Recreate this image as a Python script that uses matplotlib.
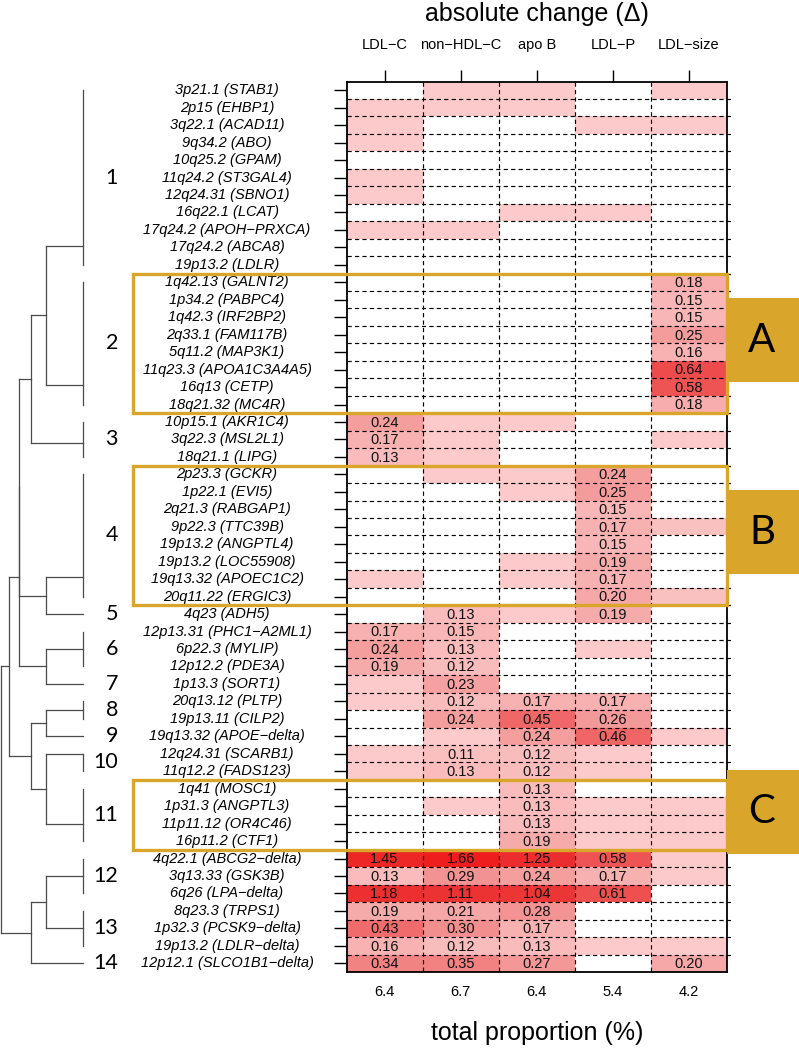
## Libraries:
import numpy as np
import matplotlib
matplotlib.use("Agg")
import matplotlib.pyplot as plt
from matplotlib.colors import LinearSegmentedColormap, Normalize
from matplotlib.patches import Rectangle
from matplotlib import transforms

plt.rcParams['font.family'] = ['Liberation Sans', 'DejaVu Sans']

## Data:
traits = ["LDL−C", "non−HDL−C", "apo B", "LDL−P", "LDL−size"]
totals = ["6.4", "6.7", "6.4", "5.4", "4.2"]

loci = [
    "3p21.1 (STAB1)", "2p15 (EHBP1)", "3q22.1 (ACAD11)", "9q34.2 (ABO)",
    "10q25.2 (GPAM)", "11q24.2 (ST3GAL4)", "12q24.31 (SBNO1)", "16q22.1 (LCAT)",
    "17q24.2 (APOH−PRXCA)", "17q24.2 (ABCA8)", "19p13.2 (LDLR)",
    "1q42.13 (GALNT2)", "1p34.2 (PABPC4)", "1q42.3 (IRF2BP2)", "2q33.1 (FAM117B)",
    "5q11.2 (MAP3K1)", "11q23.3 (APOA1C3A4A5)", "16q13 (CETP)", "18q21.32 (MC4R)",
    "10p15.1 (AKR1C4)", "3q22.3 (MSL2L1)", "18q21.1 (LIPG)",
    "2p23.3 (GCKR)", "1p22.1 (EVI5)", "2q21.3 (RABGAP1)", "9p22.3 (TTC39B)",
    "19p13.2 (ANGPTL4)", "19p13.2 (LOC55908)", "19q13.32 (APOEC1C2)", "20q11.22 (ERGIC3)",
    "4q23 (ADH5)", "12p13.31 (PHC1−A2ML1)", "6p22.3 (MYLIP)", "12p12.2 (PDE3A)",
    "1p13.3 (SORT1)", "20q13.12 (PLTP)", "19p13.11 (CILP2)", "19q13.32 (APOE−delta)",
    "12q24.31 (SCARB1)", "11q12.2 (FADS123)",
    "1q41 (MOSC1)", "1p31.3 (ANGPTL3)", "11p11.12 (OR4C46)", "16p11.2 (CTF1)",
    "4q22.1 (ABCG2−delta)", "3q13.33 (GSK3B)", "6q26 (LPA−delta)",
    "8q23.3 (TRPS1)", "1p32.3 (PCSK9−delta)", "19p13.2 (LDLR−delta)",
    "12p12.1 (SLCO1B1−delta)",
]

N = np.nan
p = 0.07   # faint, not labelled
q = 0.10   # a bit stronger, not labelled
values = np.array([
    [N, p, p, N, p],
    [p, p, p, N, N],
    [p, N, N, p, p],
    [p, N, N, N, N],
    [N, N, N, N, N],
    [p, N, N, N, N],
    [p, N, N, N, N],
    [N, N, p, p, N],
    [p, p, N, N, N],
    [N, N, N, N, N],
    [N, N, N, N, N],
    [N, N, N, N, 0.18],
    [N, N, N, N, 0.15],
    [N, N, N, N, 0.15],
    [N, N, N, N, 0.25],
    [N, N, N, N, 0.16],
    [N, N, N, N, 0.64],
    [N, N, N, N, 0.58],
    [N, N, N, N, 0.18],
    [0.24, p, p, N, N],
    [0.17, p, N, N, p],
    [0.13, p, N, N, N],
    [N, p, p, 0.24, N],
    [N, N, p, 0.25, N],
    [N, N, N, 0.15, N],
    [N, N, N, 0.17, q],
    [N, N, N, 0.15, N],
    [N, N, p, 0.19, N],
    [p, N, p, 0.17, N],
    [N, N, N, 0.20, q],
    [N, 0.13, p, 0.19, N],
    [0.17, 0.15, N, N, N],
    [0.24, 0.13, N, p, N],
    [0.19, 0.12, N, N, N],
    [p, 0.23, N, N, N],
    [p, 0.12, 0.17, 0.17, N],
    [N, 0.24, 0.45, 0.26, N],
    [N, p, 0.24, 0.46, p],
    [p, 0.11, 0.12, p, N],
    [p, 0.13, 0.12, p, N],
    [N, N, 0.13, N, N],
    [N, p, 0.13, p, p],
    [N, N, 0.13, p, p],
    [N, N, 0.19, p, p],
    [1.45, 1.66, 1.25, 0.58, p],
    [0.13, 0.29, 0.24, 0.17, p],
    [1.18, 1.11, 1.04, 0.61, N],
    [0.19, 0.21, 0.28, N, N],
    [0.43, 0.30, 0.17, N, N],
    [0.16, 0.12, 0.13, p, p],
    [0.34, 0.35, 0.27, N, 0.20],
])

# clusters of loci (in row order) and where each cluster hooks into the tree
cluster_sizes = [11, 8, 3, 8, 1, 3, 1, 2, 1, 2, 4, 3, 3, 1]
cluster_anchor = [8.9, 5.9, 1.2, 5.9, 0, 1, 0, 0.5, 0, 0, 2, 1, 1, 0]
# tree of clusters: (height, left, right)
tree = (82, (74, (64, (64, (52, (37, 0, 1), 2), (37, 3, 4)), (37, 5, 6)),
             (52, (37, 7, 8), (37, 9, 10))),
        (52, (37, 11, 12), 13))

# highlighted groups: name, first row, last row
groups = [("A", 11, 18), ("B", 22, 29), ("C", 40, 43)]

## Layout (pixels):
W, H = 799, 1049
hm_left, hm_right, hm_top, hm_bottom = 346.5, 727, 81.5, 972
n_rows, n_cols = values.shape
row_h = (hm_bottom - hm_top) / n_rows
gold = '#D9A62B'

fig = plt.figure(figsize=(W / 100, H / 100), dpi=100)
ax = fig.add_axes([hm_left / W, 1 - hm_bottom / H,
                   (hm_right - hm_left) / W, (hm_bottom - hm_top) / H])

## Heatmap:
cmap = LinearSegmentedColormap.from_list("reds", [
    (0.0, '#FFE6E6'), (0.04, '#FCC9C9'), (0.076, '#F9BABA'), (0.141, '#F49E9E'),
    (0.265, '#F06666'), (0.376, '#EE4C4C'), (0.65, '#EC3333'), (1.0, '#EE1C1C')])
cmap.set_bad('white')
norm = Normalize(0, 1.7)
ax.pcolormesh(np.arange(n_cols + 1), np.arange(n_rows + 1),
              np.ma.masked_invalid(values), cmap=cmap, norm=norm)
ax.set_xlim(0, n_cols)
ax.set_ylim(n_rows, 0)

for i in range(1, n_rows):
    ax.plot([0, n_cols + 0.05], [i, i], color='black', lw=0.85,
            ls=(0, (3.6, 2.7)), clip_on=False)
for j in range(1, n_cols):
    ax.plot([j, j], [0, n_rows], color='black', lw=0.85, ls=(0, (3.6, 2.7)))

for i in range(n_rows):
    for j in range(n_cols):
        v = values[i, j]
        if not np.isnan(v) and v >= 0.105:
            ax.text(j + 0.5, i + 0.55, f"{v:.2f}", ha='center', va='center',
                    fontsize=10.5, color='#111111')

for s in ax.spines.values():
    s.set_linewidth(1.3)

ax.xaxis.set_ticks_position('top')
ax.set_xticks(np.arange(n_cols) + 0.5)
ax.set_xticklabels(traits, fontsize=10.5)
ax.tick_params(axis='x', length=9, width=1, pad=12)
ax.set_yticks(np.arange(n_rows) + 0.5)
ax.set_yticklabels([])
ax.tick_params(axis='y', length=9.5, width=1)

# row labels, centred in the gap between tree and heatmap
lab_tr = transforms.blended_transform_factory(fig.transFigure, ax.transData)
for i, name in enumerate(loci):
    ax.text(227 / W, i + 0.5, name, transform=lab_tr, ha='center', va='center',
            fontsize=10.5, style='italic')

# column totals under the heatmap
tot_tr = transforms.blended_transform_factory(ax.transData, fig.transFigure)
for j, t in enumerate(totals):
    ax.text(j + 0.5, 1 - 992 / H, t, transform=tot_tr, ha='center', va='center',
            fontsize=10.5)

fig.text((hm_left + hm_right) / 2 / W, 1 - 14 / H, "absolute change (Δ)",
         ha='center', va='center', fontsize=18)
fig.text((hm_left + hm_right) / 2 / W, 1 - 1033 / H, "total proportion (%)",
         ha='center', va='center', fontsize=18)

## Dendrogram:
dax = fig.add_axes([0, 1 - hm_bottom / H, 83 / W, (hm_bottom - hm_top) / H])
dax.set_xlim(83, 0)
dax.set_ylim(n_rows, 0)
dax.axis('off')

starts = np.concatenate([[0], np.cumsum(cluster_sizes)[:-1]])
leaf_pos = [s + a + 0.5 for s, a in zip(starts, cluster_anchor)]
line_kw = dict(color='#4A4A4A', lw=0.9, clip_on=False)

for k, (s, n) in enumerate(zip(starts, cluster_sizes)):
    if n > 1:
        dax.plot([0, 0], [s + 0.5, s + n - 0.5], **line_kw)
    dax.text(118 / W, s + n / 2, str(k + 1), transform=lab_tr, ha='right',
             va='center', fontsize=15.5, family=['Lato', 'DejaVu Sans'])


def draw(node):
    if isinstance(node, int):
        return leaf_pos[node], 0.0
    h, left, right = node
    y1, h1 = draw(left)
    y2, h2 = draw(right)
    dax.plot([h1, h], [y1, y1], **line_kw)
    dax.plot([h2, h], [y2, y2], **line_kw)
    dax.plot([h, h], [y1, y2], **line_kw)
    return (y1 + y2) / 2, h


draw(tree)

## Highlight boxes:
for name, r0, r1 in groups:
    y0 = hm_top + r0 * row_h
    y1 = hm_top + (r1 + 1) * row_h
    fig.patches.append(Rectangle((133 / W, 1 - y1 / H), (hm_right - 133) / W,
                                 (y1 - y0) / H, fill=False, edgecolor=gold,
                                 lw=2.4, transform=fig.transFigure))
    yc = (y0 + y1) / 2 - 3
    fig.patches.append(Rectangle((hm_right / W, 1 - (yc + 42) / H), 80 / W, 84 / H,
                                 facecolor=gold, edgecolor='none',
                                 transform=fig.transFigure))
    fig.text(762 / W, 1 - yc / H, name, ha='center', va='center', fontsize=29,
             family=['Lato', 'DejaVu Sans'])

fig.savefig("out.png", dpi=100)
